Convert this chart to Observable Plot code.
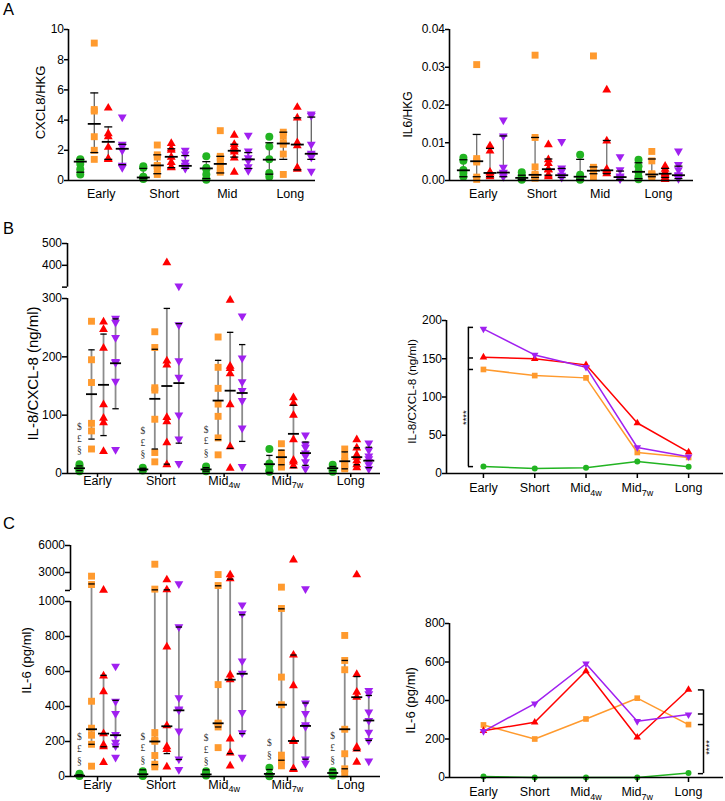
<!DOCTYPE html>
<html><head><meta charset="utf-8">
<script src="https://cdn.jsdelivr.net/npm/d3@7"></script>
<script src="https://cdn.jsdelivr.net/npm/@observablehq/plot@0.6"></script>
<style>
body{margin:0;background:#fff;font-family:"Liberation Sans",Arial,sans-serif;}
#fig{position:relative;width:725px;height:801px;overflow:hidden;background:#fff;}
.pane{position:absolute;}
.letter{position:absolute;left:3px;font-size:16.5px;line-height:16.5px;color:#000;font-family:"Liberation Sans",Arial,sans-serif;}
</style></head>
<body><div id="fig"></div>
<script>
// ---------------- categories ----------------
const catsA = ["Early", "Short", "Mid", "Long"];
const catsBC = ["Early", "Short", "Mid_4w", "Mid_7w", "Long"];
const GROUPS = ["g1", "g2", "g3", "g4"];
const COLORS = {g1: "#22b422", g2: "#ff9a2e", g3: "#ff0000", g4: "#a020f0"};

// ---------------- A left: CXCL8/HKG (points per category, and [lo, median, hi]) ----------------
const A_cxcl8_g1 = [[1.4,1.3,1.1,0.75,0.4],[0.95,0.85,0.25,0.2,0.15,0.1],[1.6,0.85,0.75,0.4,0.1,0.05],[2.9,2.25,1.4,0.5,0.25]];
const A_cxcl8_g2 = [[9.1,4.7,4.6,2.9,2.0,1.4],[2.35,1.7,1.55,1.0,0.95,0.8,0.4],[3.3,1.6,1.5,1.2,1.0,0.65,0.55],[3.2,2.95,2.5,2.4,1.75,0.4]];
const A_cxcl8_g3 = [[4.8,3.1,2.9,2.2,1.45,1.4],[2.45,2.1,2.0,1.55,1.2,0.9,0.85],[3.0,2.4,2.2,2.0,1.9,1.5,0.55],[4.85,4.15,2.5,2.3,0.85,0.75]];
const A_cxcl8_g4 = [[4.2,2.4,2.25,2.0,1.0,0.85],[2.0,1.75,1.2,1.0,0.95,0.85,0.8],[3.0,1.95,1.5,1.3,0.9,0.65],[4.4,4.3,2.4,1.8,1.7,1.55,0.6]];
const A_cxcl8_g1_sum = [[0.55,1.25,1.4],[0.12,0.2,0.8],[0.13,0.8,1.25],[0.42,1.38,2.5]];
const A_cxcl8_g2_sum = [[1.85,3.75,5.8],[0.45,1.0,1.7],[0.5,1.1,1.6],[1.4,2.45,3.2]];
const A_cxcl8_g3_sum = [[1.4,2.56,3.55],[0.85,1.57,2.1],[1.55,1.97,2.4],[0.7,2.38,4.15]];
const A_cxcl8_g4_sum = [[1.05,2.1,2.4],[0.8,0.97,1.65],[0.8,1.4,1.85],[1.4,1.77,4.2]];
const A_cxcl8_ticks = [0, 2, 4, 6, 8, 10];

// ---------------- A right: IL6/HKG ----------------
const A_il6_g1 = [[0.006,0.0052,0.0028,0.002,0.001],[0.0022,0.0012,0.0007,0.0004,0.0002],[0.0068,0.0015,0.001,0.0004,0.0002],[0.0055,0.0038,0.0023,0.001,0.0003]];
const A_il6_g2 = [[0.0307,0.0058,0.0052,0.0049,0.0009,0.0003],[0.0332,0.0114,0.0036,0.0016,0.0014,0.0009,0.0006],[0.033,0.0035,0.0028,0.0025,0.002,0.0008],[0.0077,0.0052,0.0018,0.0016,0.0013,0.001]];
const A_il6_g3 = [[0.0092,0.0078,0.0022,0.002,0.0015,0.001],[0.0095,0.0055,0.0045,0.003,0.0028,0.0015,0.001],[0.024,0.0105,0.003,0.0027,0.0025,0.0018],[0.0038,0.003,0.0022,0.0018,0.0015,0.0008,0.0003]];
const A_il6_g4 = [[0.016,0.0118,0.0035,0.0022,0.002,0.0015,0.001],[0.0103,0.0033,0.0025,0.0014,0.0012,0.0008],[0.0063,0.0028,0.0012,0.0009,0.0006,0.0004],[0.0078,0.0042,0.0028,0.0015,0.0013,0.0009,0.0005]];
const A_il6_g1_sum = [[0.001,0.0027,0.0055],[0.0003,0.0007,0.0014],[0.0003,0.001,0.0056],[0.0005,0.0023,0.0047]];
const A_il6_g2_sum = [[0.001,0.0051,0.0122],[0.0008,0.0015,0.0114],[0.0018,0.0026,0.0036],[0.001,0.0016,0.0057]];
const A_il6_g3_sum = [[0.001,0.002,0.0085],[0.0014,0.003,0.0057],[0.0018,0.0027,0.0106],[0.0008,0.0018,0.0032]];
const A_il6_g4_sum = [[0.001,0.0021,0.0118],[0.0008,0.0014,0.0032],[0.0003,0.0009,0.0025],[0.0005,0.0014,0.0038]];
const A_il6_ticks = [0, 0.01, 0.02, 0.03, 0.04];

// ---------------- B left: IL-8/CXCL-8 (ng/ml) ----------------
const B_il8_g1 = [[16,12,9,6,4],[10,7,6,5],[12,9,6,4],[42,17,14,5,3],[15,10,8,5,3]];
const B_il8_g2 = [[261,195,156,86,73,42],[243,216,147,143,93,36,20],[234,182,146,119,98,61,32],[51,35,28,22,14,11],[42,30,21,15,10,8]];
const B_il8_g3 = [[260,247,215,118,95,87,38],[412,193,186,96,89,53,15],[297,184,180,171,118,46,9],[130,120,100,58,23,20,13],[58,44,32,28,22,15,10]];
const B_il8_g4 = [[266,259,233,192,190,158,41],[305,255,193,165,100,59,17],[270,198,157,142,125,78,12],[66,50,45,35,30,20,8],[52,40,30,25,20,15,8]];
const B_il8_g1_sum = [[5,9,13],[5,7,9],[4,7,10],[2,16,31],[5,9,12]];
const B_il8_g2_sum = [[59,136,212],[42,128,213],[58,125,194],[15,28,40],[8,21,37]];
const B_il8_g3_sum = [[65,152,239],[16,150,283],[43,142,242],[10,68,117],[15,28,44]];
const B_il8_g4_sum = [[111,189,265],[52,155,257],[55,138,221],[14,35,54],[10,22,45]];
const B_il8_lowTicks = [0, 100, 200, 300];
const B_il8_highTicks = [400, 500];
const B_il8_break = [300, 500];          // lower segment ends at 300, upper segment 300..500
const B_il8_symCats = [0, 0, 0, 1, 1, 1, 2, 2, 2];
const B_il8_symText = ["$", "£", "§", "$", "£", "§", "$", "£", "§"];
const B_il8_symY = [80, 60, 40, 73, 53, 33, 75, 55, 35];

// ---------------- B right: means ----------------
const B_mean_g1 = [9, 6.5, 7.4, 15.7, 8.7];
const B_mean_g2 = [136, 128, 125, 27.5, 21];
const B_mean_g3 = [152, 150, 142, 66, 28];
const B_mean_g4 = [189, 155, 139, 34, 22];
const B_mean_ticks = [0, 50, 100, 150, 200];
const B_bracket = [191, 9];
const B_bracketTicks = [151, 136];

// ---------------- C left: IL-6 (pg/ml) ----------------
const C_il6_g1 = [[15,8,5,3],[30,20,10,5,3],[30,20,8,5],[50,10,5,2],[30,15,5]];
const C_il6_g2 = [[2590,1660,430,276,236,184,59],[3920,1150,251,210,201,120,70,55],[2770,1550,525,305,300,283,165],[1370,960,568,410,122,89,61],[806,663,610,270,130,44,15]];
const C_il6_g3 = [[1040,575,485,245,180,170,80],[2190,1080,740,290,170,155,55],[2745,2300,580,553,215,135,60],[4405,694,519,205,200,45,40],[2745,583,482,453,168,158,82]];
const C_il6_g4 = [[630,430,360,240,195,175,110],[1740,855,450,385,380,260,100,40],[980,930,660,590,365,250,110],[1185,420,360,295,285,100,75],[491,472,368,320,253,206,88]];
const C_il6_g1_sum = [[0,5,10],[0,13,38],[0,12,38],[0,15,40],[0,20,38]];
const C_il6_g2_sum = [[184,270,1725],[68,200,1070],[283,304,1520],[93,410,958],[44,270,663]];
const C_il6_g3_sum = [[170,245,578],[131,287,1070],[131,553,2260],[40,203,694],[149,453,571]];
const C_il6_g4_sum = [[170,236,435],[97,378,854],[245,587,924],[99,289,420],[206,320,463]];
const C_il6_lowTicks = [0, 200, 400, 600, 800, 1000];
const C_il6_highTicks = [3000, 6000];
const C_il6_break = [1000, 6000];
const C_il6_symCats = [0, 0, 0, 1, 1, 1, 2, 2, 2, 3, 3, 4, 4, 4];
const C_il6_symText = ["$", "£", "§", "$", "£", "§", "$", "£", "§", "$", "§", "$", "£", "§"];
const C_il6_symY = [225, 158, 91, 228, 162, 95, 219, 153, 86, 192, 125, 231, 164, 97];

// ---------------- C right: means ----------------
const C_mean_g1 = [5, 0, 0, 0, 23];
const C_mean_g2 = [273, 200, 304, 412, 275];
const C_mean_g3 = [243, 287, 553, 209, 457];
const C_mean_g4 = [240, 384, 591, 292, 327];
const C_mean_ticks = [0, 200, 400, 600, 800];
const C_bracket = [455, 20];
const C_bracketTicks = [330, 275];

// ---------------- helpers ----------------
const triDown = {draw(ctx, size) {
  const s3 = Math.sqrt(3), y = -Math.sqrt(size / (s3 * 3));
  ctx.moveTo(0, -y * 2); ctx.lineTo(-s3 * y, y); ctx.lineTo(s3 * y, y); ctx.closePath();
}};
const SYMBOLS = {g1: "circle", g2: "square", g3: "triangle", g4: triDown};
const hline = (w) => ({draw(ctx) { ctx.moveTo(-w, 0); ctx.lineTo(w, 0); }});
const FONT = "Liberation Sans, Arial, sans-serif";
const fig = document.getElementById("fig");

// piecewise mapping for broken axes: lower segment is 1:1, upper compressed
function breakMap(at, gap, ratio) {
  const f = (v) => v <= at ? v : at + gap + (v - at) * ratio;
  f.at = at; f.gap = gap; f.ratio = ratio;
  return f;
}

function place(svg, left, top) {
  const d = document.createElement("div");
  d.className = "pane"; d.style.left = left + "px"; d.style.top = top + "px";
  d.appendChild(svg); fig.appendChild(d);
  // subscripts: "Mid_4w" -> Mid with subscript 4w
  svg.querySelectorAll("text").forEach((t) => {
    if (t.children.length === 0 && t.textContent.includes("_")) {
      const [a, b] = t.textContent.split("_");
      t.textContent = a;
      const ts = document.createElementNS("http://www.w3.org/2000/svg", "tspan");
      ts.setAttribute("dy", "0.35em"); ts.setAttribute("font-size", "0.72em");
      ts.textContent = b; t.appendChild(ts);
    }
  });
}

function scatterPanel(c) {
  const f = c.f || ((v) => v);
  const pts = [], sums = [];
  GROUPS.forEach((g, gi) => {
    c.pts[gi].forEach((arr, ci) => arr.forEach((v) => pts.push({g, x: ci + (gi - 1.5) * c.gw, y: f(v)})));
    c.sums[gi].forEach(([lo, med, hi], ci) => sums.push({g, x: ci + (gi - 1.5) * c.gw, lo: f(lo), med: f(med), hi: f(hi)}));
  });
  const [x0, x1] = c.xDomain;
  const tickU = c.ticks.map(f);
  const labels = new Map(c.ticks.map((v) => [f(v), c.tickFormat(v)]));
  if (c.extraTicks) c.extraTicks.forEach((u) => { tickU.push(u); labels.set(u, ""); });
  const marks = [
    Plot.ruleX(sums, {x: "x", y1: "lo", y2: "hi", stroke: c.barColor, strokeWidth: c.barWidth}),
    ...GROUPS.map((g, gi) => Plot.dot(pts.filter((d) => d.g === g), {x: "x", y: "y", symbol: SYMBOLS[g], fill: COLORS[g], stroke: "none", r: c.r[gi]})),
    Plot.dot(sums, {x: "x", y: "lo", symbol: hline(c.capW), stroke: "black", fill: "none", strokeWidth: 1.3}),
    Plot.dot(sums, {x: "x", y: "hi", symbol: hline(c.capW), stroke: "black", fill: "none", strokeWidth: 1.3}),
    Plot.dot(sums, {x: "x", y: "med", symbol: hline(c.medW), stroke: "black", fill: "none", strokeWidth: 1.8}),
    Plot.ruleX(c.ySegs, {x: () => x0, y1: (d) => d[0], y2: (d) => d[1], stroke: "black", strokeWidth: 1.6}),
    Plot.ruleY([0], {x1: () => x0, x2: () => x1, stroke: "black", strokeWidth: 1.6}),
    Plot.axisY(tickU, {tickFormat: (u) => labels.get(u), tickSize: c.yTickSize, tickPadding: 0.5, fontSize: c.yFont, strokeWidth: 1.5, label: null}),
    Plot.axisX(d3.range(c.cats.length), {tickFormat: (i) => c.cats[i], tickSize: c.xTickSize, tickPadding: c.xTickPad, fontSize: 12.5, strokeWidth: 1.5, label: null}),
    Plot.text([c.title], {frameAnchor: "top-left", dx: c.titleDx, dy: c.titleDy, rotate: -90, fontSize: c.titleFont, textAnchor: "middle", lineAnchor: "middle", fill: "black"})
  ];
  if (c.sym) {
    marks.push(Plot.text(c.sym.cats.map((ci, i) => ({x: ci - 1.5 * c.gw, y: f(c.sym.y[i]), t: c.sym.text[i]})),
      {x: "x", y: "y", text: "t", fontSize: 9.5, fontFamily: "Liberation Serif, serif", fill: "#333"}));
  }
  const svg = Plot.plot({
    width: c.width, height: c.height,
    marginLeft: c.mL, marginRight: c.mR, marginTop: c.mT, marginBottom: c.mB,
    x: {domain: c.xDomain}, y: {domain: c.yDomain},
    style: {fontFamily: FONT, background: "transparent", color: "black", overflow: "visible"},
    marks
  });
  place(svg, c.left, c.top);
}

function linePanel(c) {
  const [x0, x1] = c.xDomain;
  const rows = [];
  GROUPS.forEach((g, gi) => c.series[gi].forEach((v, ci) => rows.push({g, x: ci, y: v})));
  const marks = [
    ...GROUPS.map((g) => Plot.line(rows.filter((d) => d.g === g), {x: "x", y: "y", stroke: COLORS[g], strokeWidth: 1.5})),
    ...GROUPS.map((g, gi) => Plot.dot(rows.filter((d) => d.g === g), {x: "x", y: "y", symbol: SYMBOLS[g], fill: COLORS[g], stroke: "none", r: c.r[gi]})),
    Plot.ruleX([c.yDomain], {x: () => x0, y1: (d) => d[0], y2: (d) => d[1], stroke: "black", strokeWidth: 1.6}),
    Plot.ruleY([0], {x1: () => x0, x2: () => x1, stroke: "black", strokeWidth: 1.6}),
    Plot.axisY(c.ticks, {tickSize: 4, tickPadding: 0.5, fontSize: 12, strokeWidth: 1.5, label: null}),
    Plot.axisX(d3.range(c.cats.length), {tickFormat: (i) => c.cats[i], tickSize: 5, tickPadding: c.xTickPad, fontSize: 12.5, strokeWidth: 1.5, label: null}),
    Plot.text([c.title], {frameAnchor: "top-left", dx: c.titleDx, dy: c.titleDy, rotate: -90, fontSize: c.titleFont, textAnchor: "middle", lineAnchor: "middle", fill: "black"}),
    // significance bracket
    Plot.ruleX([c.bracketX], {x: (d) => d, y1: () => c.bracket[0], y2: () => c.bracket[1], stroke: "black", strokeWidth: 1.5}),
    Plot.ruleY([...c.bracket, ...c.bracketTicks], {y: (d) => d, x1: () => c.bracketX, x2: () => c.bracketX + c.bracketLen, stroke: "black", strokeWidth: 1.5}),
    Plot.text(["****"], {x: () => c.starX, y: () => c.starY, rotate: -90, fontSize: 9.5, fill: "black"})
  ];
  const svg = Plot.plot({
    width: c.width, height: c.height,
    marginLeft: c.mL, marginRight: c.mR, marginTop: c.mT, marginBottom: c.mB,
    x: {domain: c.xDomain}, y: {domain: c.yDomain},
    style: {fontFamily: FONT, background: "transparent", color: "black", overflow: "visible"},
    marks
  });
  place(svg, c.left, c.top);
}

// ---------------- Panel A ----------------
scatterPanel({
  left: 0, top: 0, width: 360, height: 205, mL: 68, mR: 45, mT: 29, mB: 25,
  cats: catsA, gw: 0.222, xDomain: [-0.52, 3.40], yDomain: [0, 10],
  pts: [A_cxcl8_g1, A_cxcl8_g2, A_cxcl8_g3, A_cxcl8_g4],
  sums: [A_cxcl8_g1_sum, A_cxcl8_g2_sum, A_cxcl8_g3_sum, A_cxcl8_g4_sum],
  ticks: A_cxcl8_ticks, tickFormat: (v) => String(v), ySegs: [[0, 10]],
  r: [4, 3.9, 3.3, 3.3], barColor: "#555", barWidth: 1.2, capW: 4, medW: 6.5,
  yTickSize: 4, yFont: 12, xTickSize: 0, xTickPad: 9,
  title: "CXCL8/HKG", titleDx: -28, titleDy: 73, titleFont: 13
});
scatterPanel({
  left: 360, top: 0, width: 365, height: 205, mL: 89, mR: 32, mT: 29, mB: 25,
  cats: catsA, gw: 0.228, xDomain: [-0.58, 3.6], yDomain: [0, 0.04],
  pts: [A_il6_g1, A_il6_g2, A_il6_g3, A_il6_g4],
  sums: [A_il6_g1_sum, A_il6_g2_sum, A_il6_g3_sum, A_il6_g4_sum],
  ticks: A_il6_ticks, tickFormat: d3.format(".2f"), ySegs: [[0, 0.04]],
  r: [4, 3.9, 3.3, 3.3], barColor: "#666", barWidth: 1.2, capW: 4, medW: 6.5,
  yTickSize: 4, yFont: 12, xTickSize: 0, xTickPad: 9,
  title: "IL6/HKG", titleDx: -41, titleDy: 85, titleFont: 12
});

// ---------------- Panel B ----------------
const fB = breakMap(B_il8_break[0], 19.5, 0.374);
scatterPanel({
  left: 0, top: 230, width: 385, height: 265, mL: 67, mR: 5, mT: 13, mB: 22,
  cats: catsBC, gw: 0.19, xDomain: [-0.474, 4.47], yDomain: [0, fB(B_il8_break[1])], f: fB,
  pts: [B_il8_g1, B_il8_g2, B_il8_g3, B_il8_g4],
  sums: [B_il8_g1_sum, B_il8_g2_sum, B_il8_g3_sum, B_il8_g4_sum],
  ticks: [...B_il8_lowTicks, ...B_il8_highTicks], tickFormat: (v) => String(v),
  extraTicks: [fB.at + fB.gap],
  ySegs: [[0, fB.at], [fB.at + fB.gap, fB(B_il8_break[1])]],
  r: [4, 3.9, 3.3, 3.3], barColor: "#8c8c8c", barWidth: 1.8, capW: 3.2, medW: 5.5,
  yTickSize: 5, yFont: 12, xTickSize: 4, xTickPad: -1.5,
  title: "IL-8/CXCL-8 (ng/ml)", titleDx: -34.5, titleDy: 130, titleFont: 15,
  sym: {cats: B_il8_symCats, text: B_il8_symText, y: B_il8_symY}
});
linePanel({
  left: 385, top: 230, width: 340, height: 265, mL: 61, mR: 2, mT: 90, mB: 22,
  cats: catsBC, xDomain: [-0.72, 4.68], yDomain: [0, 200], ticks: B_mean_ticks,
  series: [B_mean_g1, B_mean_g2, B_mean_g3, B_mean_g4], r: [3, 3.2, 2.8, 2.8],
  xTickPad: 5, title: "IL-8/CXCL-8 (ng/ml)", titleDx: -34, titleDy: 71, titleFont: 11.7,
  bracket: B_bracket, bracketTicks: B_bracketTicks, bracketX: -0.293, bracketLen: 0.1,
  starX: -0.35, starY: 73
});

// ---------------- Panel C ----------------
const fC = breakMap(C_il6_break[0], 62.9, 0.0514);
scatterPanel({
  left: 0, top: 520, width: 385, height: 281, mL: 70, mR: 5, mT: 25, mB: 25,
  cats: catsBC, gw: 0.19, xDomain: [-0.427, 4.47], yDomain: [0, fC(C_il6_break[1])], f: fC,
  pts: [C_il6_g1, C_il6_g2, C_il6_g3, C_il6_g4],
  sums: [C_il6_g1_sum, C_il6_g2_sum, C_il6_g3_sum, C_il6_g4_sum],
  ticks: [...C_il6_lowTicks, ...C_il6_highTicks], tickFormat: (v) => String(v),
  extraTicks: [fC.at + fC.gap],
  ySegs: [[0, fC.at], [fC.at + fC.gap, fC(C_il6_break[1])]],
  r: [4, 3.9, 3.3, 3.3], barColor: "#8c8c8c", barWidth: 1.8, capW: 3.2, medW: 5.5,
  yTickSize: 5, yFont: 12, xTickSize: 5, xTickPad: -1.5,
  title: "IL-6 (pg/ml)", titleDx: -44, titleDy: 115, titleFont: 13,
  sym: {cats: C_il6_symCats, text: C_il6_symText, y: C_il6_symY}
});
linePanel({
  left: 385, top: 520, width: 340, height: 281, mL: 64, mR: 2, mT: 103, mB: 24,
  cats: catsBC, xDomain: [-0.663, 4.683], yDomain: [0, 800], ticks: C_mean_ticks,
  series: [C_mean_g1, C_mean_g2, C_mean_g3, C_mean_g4], r: [3, 3.2, 2.8, 2.8],
  xTickPad: 5, title: "IL-6 (pg/ml)", titleDx: -39, titleDy: 77, titleFont: 13,
  bracket: C_bracket, bracketTicks: C_bracketTicks, bracketX: 4.293, bracketLen: -0.1,
  starX: 4.39, starY: 156
});

// ---------------- panel letters ----------------
[["A", 1.2], ["B", 219.5], ["C", 514.7]].forEach(([t, y]) => {
  const d = document.createElement("div");
  d.className = "letter"; d.style.top = y + "px"; d.textContent = t; fig.appendChild(d);
});
</script>
</body></html>
